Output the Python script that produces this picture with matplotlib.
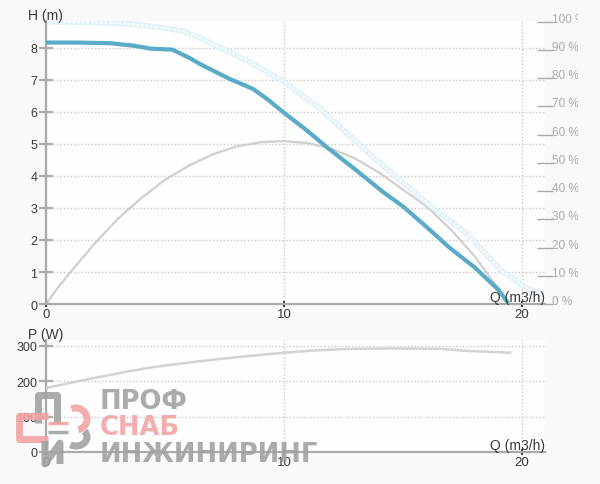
import matplotlib
matplotlib.use("Agg")
import matplotlib.pyplot as plt
from matplotlib.lines import Line2D
from matplotlib.patches import Arc, Circle
from matplotlib.transforms import blended_transform_factory, ScaledTranslation, Bbox, TransformedBbox

plt.rcParams['font.family'] = ['Liberation Sans', 'DejaVu Sans']

# ---------------- data ----------------
q_head = [0, 1.3, 2.7, 3.7, 4.4, 5.3, 6.0, 6.47, 7.0, 7.73, 8.7, 9.3, 9.96, 11.0, 11.8,
          13.0, 14.16, 15.0, 16.0, 16.97, 18.0, 19.0, 19.42]
head = [8.17, 8.17, 8.15, 8.07, 7.98, 7.95, 7.7, 7.5, 7.3, 7.03, 6.72, 6.4, 6.0, 5.4, 4.9,
        4.2, 3.5, 3.05, 2.4, 1.75, 1.15, 0.45, 0.03]

q_head_max = [0, 2.0, 3.66, 4.37, 5.0, 5.76, 6.5, 7.18, 8.57, 9.96, 10.7, 11.39, 12.77,
              13.8, 14.87, 16.27, 16.97, 17.68, 18.5, 19.2, 20.0, 20.7]
head_max = [8.82, 8.8, 8.75, 8.68, 8.62, 8.53, 8.3, 8.06, 7.56, 6.97, 6.55, 6.19, 5.25,
            4.55, 3.88, 3.0, 2.6, 2.2, 1.55, 1.0, 0.6, 0.3]

q_eff = [0, 0.5, 1, 2, 3, 4, 5, 6, 7, 8, 9, 10, 11, 12, 13, 14, 15, 16, 17, 18, 19, 19.4]
eff = [0, 5.8, 11, 21, 30, 37.5, 44, 49, 53, 55.8, 57.3, 57.7, 57, 55, 51.5, 46.5, 40.5,
       34.5, 26.5, 17, 5.5, 0.5]

q_power = [0, 1, 2, 3, 3.53, 4.5, 6.34, 8, 9.83, 11.22, 12.65, 14.5, 16.55, 17.69, 19.5]
power = [181, 195, 209, 222, 229, 240, 256, 268, 280, 287, 291.5, 293, 292, 286, 281]

h_ticks = [0, 1, 2, 3, 4, 5, 6, 7, 8]
p_ticks = [0, 100, 200, 300]
q_ticks = [0, 10, 20]
eff_ticks = [0, 10, 20, 30, 40, 50, 60, 70, 80, 90, 100]

# ---------------- figure ----------------
W, H = 600, 485
fig = plt.figure(figsize=(W / 100, H / 100), dpi=100, facecolor='#f9f9f9')

def px_axes(x0, y_top, x1, y_bot):
    return fig.add_axes([x0 / W, 1 - y_bot / H, (x1 - x0) / W, (y_bot - y_top) / H])

GRID = '#c8c8c8'
AX = '#aaaaaa'
TXT = '#3a3a3a'
BG = '#fefefe'
XMAX = (545 - 46) / 23.8

def style(ax, yt, ymax):
    ax.set_facecolor(BG)
    ax.set_xlim(0, XMAX)
    ax.set_ylim(0, ymax)
    for s in ('top', 'right'):
        ax.spines[s].set_visible(False)
    for s in ('left', 'bottom'):
        ax.spines[s].set_color(AX)
        ax.spines[s].set_linewidth(1.6)
    ax.set_yticks(yt)
    ax.set_xticks(q_ticks)
    ax.tick_params(axis='y', direction='inout', length=9.5, width=1.6, color=AX,
                   labelsize=9, labelcolor=TXT, pad=1.5)
    ax.tick_params(axis='x', direction='inout', length=4.5, width=1.3, color='#222222',
                   labelsize=9.5, labelcolor=TXT, pad=0.5)
    ax.grid(True, linestyle=(0, (1, 1.5)), color=GRID, linewidth=1.0)
    ax.set_axisbelow(True)

# ---- top chart ----
ax = px_axes(46, 22, 545, 305)
style(ax, h_ticks, (305 - 22) / 32.0)

ax2 = ax.twinx()
ax2.set_ylim(0, 100 * (305 - 22) / (305 - 22.7))
for s in ax2.spines.values():
    s.set_visible(False)
ax2.set_yticks(eff_ticks)
ax2.tick_params(axis='y', direction='inout', length=11, width=1.0, color=AX, labelright=False)

# max speed curve (very light, hollow-dot look)
ax.plot(q_head_max, head_max, color='#e3f2f8', lw=4.0, solid_capstyle='round', zorder=2)
ax.plot(q_head_max, head_max, color='#fdfeff', lw=1.5, linestyle=(0, (0.5, 1.7)),
        dash_capstyle='round', zorder=2)
# efficiency curve
ax2.plot(q_eff, eff, color='#d0d0d0', lw=1.6, zorder=3)
# head curve
ax.plot(q_head, head, color='#5aabc8', lw=3.0, zorder=4, solid_capstyle='butt',
        solid_joinstyle='round')
ax.set_zorder(ax2.get_zorder() + 1)
ax.patch.set_visible(False)
ax2.patch.set_visible(True)
ax2.patch.set_facecolor(BG)

# percent labels
tr = blended_transform_factory(ax2.transAxes, ax2.transData) + ScaledTranslation(6.5 / 100, 3 / 100, fig.dpi_scale_trans)
clip = TransformedBbox(Bbox([[0, 0], [578 / W, 1]]), fig.transFigure)
for v in eff_ticks:
    t = ax2.text(1.0, v, f'{v} %', transform=tr, ha='left', va='center', fontsize=8.5,
                 color='#aaaaaa')
    t.set_clip_box(clip)
    t.set_clip_on(True)

fig.text(28 / W, 1 - 16 / H, 'H (m)', ha='left', va='center', fontsize=10, color=TXT)
ax.text(1.0, 0.0, 'Q (m3/h)', transform=ax.transAxes, ha='right', va='bottom',
        fontsize=10, color=TXT, zorder=6)

# ---- bottom chart ----
bx = px_axes(46, 341, 545, 453)
style(bx, p_ticks, (453 - 341) / 35.35 * 100)
bx.plot(q_power, power, color='#d3d3d3', lw=1.8, zorder=3)
fig.text(28 / W, 1 - 335 / H, 'P (W)', ha='left', va='center', fontsize=10, color=TXT)
bx.text(1.0, 0.0, 'Q (m3/h)', transform=bx.transAxes, ha='right', va='bottom',
        fontsize=10, color=TXT, zorder=6)

# ---- watermark ----
wm_gray = '#a2a2a2'
wm_red = '#f2a4a4'
wf = ['DejaVu Sans']
for txt, yc, col in (('ПРОФ', 402, wm_gray), ('СНАБ', 428, wm_red), ('ИНЖИНИРИНГ', 455, wm_gray)):
    fig.text(100 / W, 1 - yc / H, txt, family=wf, fontsize=18.5, fontweight='bold',
             color=col, alpha=0.9, ha='left', va='center')

def fline(xs, ys, col, lw):
    fig.add_artist(Line2D([x / W for x in xs], [1 - y / H for y in ys], color=col, lw=lw,
                          alpha=0.9, solid_capstyle='butt', solid_joinstyle='round',
                          transform=fig.transFigure))

# logo: gray "П", red "С", gray "И", gear + connector
fline([38, 38, 57, 57], [424, 396, 396, 424], wm_gray, 5)
fline([48, 19, 19, 48], [417, 417, 440, 440], wm_red, 5)
fline([45, 45, 60, 60], [442, 465, 444, 465], wm_gray, 5)
fline([48, 68], [433, 433], wm_gray, 2.5)
fline([48, 68], [424, 424], wm_red, 2.5)
fig.add_artist(Arc((76 / W, 1 - 420 / H), 22 / W, 22 / H, theta1=-80, theta2=110,
                   transform=fig.transFigure, color=wm_red, lw=5, alpha=0.9))
fig.add_artist(Arc((76 / W, 1 - 438 / H), 22 / W, 18 / H, theta1=-120, theta2=40,
                   transform=fig.transFigure, color=wm_gray, lw=5, alpha=0.9))

fig.savefig('out.png', dpi=100, facecolor=fig.get_facecolor())
